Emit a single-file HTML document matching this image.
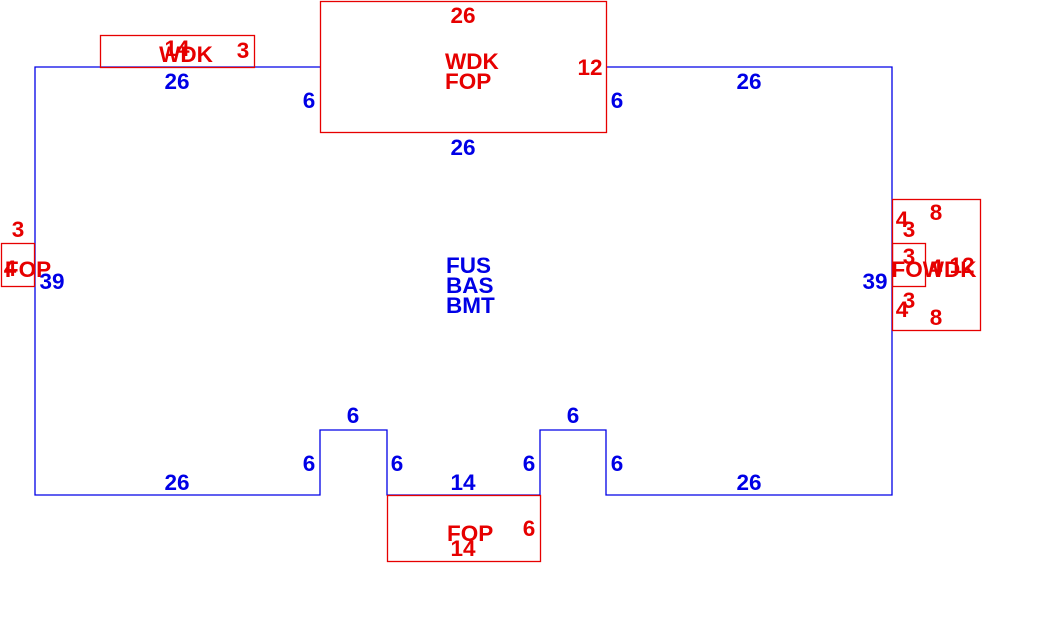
<!DOCTYPE html>
<html><head><meta charset="utf-8"><style>
html,body{margin:0;padding:0;background:#fff;width:1045px;height:620px;overflow:hidden}
text{font-family:"Liberation Sans",Arial,sans-serif;font-weight:bold;font-size:22.5px}
.b{fill:#0000e6}.r{fill:#e60000}
</style></head><body>
<svg width="1045" height="620" xmlns="http://www.w3.org/2000/svg">
<g fill="none" stroke-width="1.3">
<polyline stroke="#0000e6" points="320,67 35,67 35,495 320,495 320,430 387,430 387,495 540,495 540,430 606,430 606,495 892,495 892,67 606,67"/>
<rect stroke="#e60000" x="320.5" y="1.5" width="286" height="131"/>
<rect stroke="#e60000" x="100.5" y="35.5" width="154" height="32"/>
<rect stroke="#e60000" x="1.5" y="243.5" width="33" height="43"/>
<rect stroke="#e60000" x="892.5" y="199.5" width="88" height="131"/>
<rect stroke="#e60000" x="892.5" y="243.5" width="33" height="43"/>
<rect stroke="#e60000" x="387.5" y="495.5" width="153" height="66"/>
</g>
<g text-anchor="middle">
<text class="r" x="463" y="23">26</text>
<text class="r" x="590" y="75">12</text>
<text class="b" x="617" y="108">6</text>
<text class="b" x="309" y="108">6</text>
<text class="b" x="463" y="155">26</text>
<text class="b" x="177" y="89">26</text>
<text class="b" x="749" y="89">26</text>
<text class="r" x="177" y="56">14</text>
<text class="r" x="186" y="62">WDK</text>
<text class="r" x="243" y="58">3</text>
<text class="r" x="18" y="237">3</text>
<text class="r" x="10" y="276">4</text>
<text class="r" x="28" y="277">FOP</text>
<text class="b" x="52" y="289">39</text>
<text class="b" x="875" y="289">39</text>
<text class="r" x="902" y="227">4</text>
<text class="r" x="909" y="237">3</text>
<text class="r" x="936" y="220">8</text>
<text class="r" x="909" y="264">3</text>
<text class="r" x="936" y="275">4</text>
<text class="r" x="934" y="277">FOWDK</text>
<text class="r" x="962" y="273">12</text>
<text class="r" x="909" y="308">3</text>
<text class="r" x="902" y="317">4</text>
<text class="r" x="936" y="325">8</text>
<text class="b" x="353" y="423">6</text>
<text class="b" x="573" y="423">6</text>
<text class="b" x="309" y="471">6</text>
<text class="b" x="397" y="471">6</text>
<text class="b" x="529" y="471">6</text>
<text class="b" x="617" y="471">6</text>
<text class="b" x="177" y="490">26</text>
<text class="b" x="463" y="490">14</text>
<text class="b" x="749" y="490">26</text>
<text class="r" x="529" y="536">6</text>
<text class="r" x="463" y="556">14</text>
</g>
<text class="r" x="445" y="69">WDK</text>
<text class="r" x="445" y="89">FOP</text>
<text class="r" x="447" y="541">FOP</text>
<text class="b" x="446" y="273">FUS</text>
<text class="b" x="446" y="293">BAS</text>
<text class="b" x="446" y="313">BMT</text>
</svg>
</body></html>
